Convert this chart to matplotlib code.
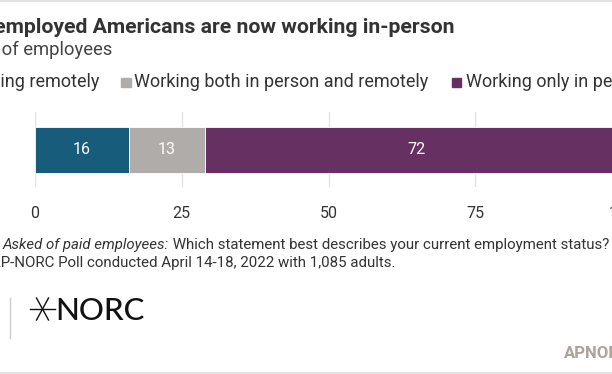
import matplotlib
matplotlib.use("Agg")
from matplotlib import pyplot as plt
from matplotlib.lines import Line2D
from matplotlib.patches import Rectangle

# chart data
categories = ["Working remotely", "Working both in person and remotely", "Working only in person"]
values = [16, 13, 72]
colors = ["#185c7b", "#b0acaa", "#663162"]
ticks = [0, 25, 50, 75, 100]

title = "Most employed Americans are now working in-person"
subtitle = "Percent of employees"
note_italic = "Asked of paid employees:"
note_rest = " Which statement best describes your current employment status?"
source = "Source: AP-NORC Poll conducted April 14-18, 2022 with 1,085 adults."

W, H = 612, 374
plt.rcParams['font.family'] = ['Roboto', 'DejaVu Sans']


def fx(px):
    return px / W


def fy(py):
    return 1 - py / H


fig = plt.figure(figsize=(W / 100, H / 100), dpi=100)
fig.patch.set_facecolor("white")

# frame lines top / bottom
fig.add_artist(Line2D([0, 1], [fy(1), fy(1)], color="#dddddd", lw=1.2))
fig.add_artist(Line2D([0, 1], [fy(373), fy(373)], color="#dddddd", lw=1.2))

# title block (cut on the left like the reference)
fig.text(fx(455), fy(33), title, ha="right", va="baseline", fontsize=15.3,
         fontweight="bold", color="#333333")
fig.text(fx(112), fy(55), subtitle, ha="right", va="baseline", fontsize=13.2,
         color="#444444")

# legend
leg_fs = 13
fig.text(fx(99), fy(87), categories[0], ha="right", va="baseline", fontsize=leg_fs, color="#333333")
fig.add_artist(Rectangle((fx(121), fy(87)), fx(9.5), 9.5 / H, color=colors[1]))
fig.text(fx(134), fy(87), categories[1], ha="left", va="baseline", fontsize=leg_fs, color="#333333")
fig.add_artist(Rectangle((fx(452), fy(87)), fx(9.5), 9.5 / H, color=colors[2]))
fig.text(fx(466), fy(87), categories[2], ha="left", va="baseline", fontsize=leg_fs, color="#333333")

# bar axes: x 0..100 maps to 35..622 px, vertical span 112..187 px
ax = fig.add_axes([fx(35), fy(187), (622 - 35) / W, (187 - 112) / H])
ax.set_xlim(0, 100)
ax.set_ylim(-0.5, 0.5)
bar_h = 46 / 75
left = 0
for v, c in zip(values, colors):
    ax.barh(0, v, left=left, height=bar_h, color=c, edgecolor="white", linewidth=0.6, zorder=3)
    ax.text(left + v / 2, 0, str(v), ha="center", va="center", color="white",
            fontsize=11.5, zorder=4)
    left += v
for t in ticks:
    ax.axvline(t, color="#e3e3e3", lw=1, zorder=1)
ax.set_xticks(ticks)
ax.set_xticklabels([str(t) for t in ticks], fontsize=11.5, color="#333333")
ax.tick_params(axis="x", length=0, pad=14)
ax.set_yticks([])
for s in ax.spines.values():
    s.set_visible(False)
ax.patch.set_alpha(0)

# notes
note_fs = 10.85
note1 = fig.text(fx(3), fy(249.5), note_italic, ha="left", va="baseline", fontsize=note_fs,
                 style="italic", color="#333333")
fig.canvas.draw()
bb = note1.get_window_extent()
fig.text(bb.x1 / W, fy(249.5), note_rest, ha="left", va="baseline", fontsize=note_fs, color="#333333")
fig.text(fx(395), fy(267.5), source, ha="right", va="baseline", fontsize=note_fs, color="#333333")

# NORC logo
fig.add_artist(Line2D([fx(10), fx(10)], [fy(298), fy(338)], color="#cccccc", lw=1))
cx, cy, r = 42.5, 309, 12.5
fig.add_artist(Line2D([fx(cx - r), fx(cx + r)], [fy(cy), fy(cy)], color="#111111", lw=1))
fig.add_artist(Line2D([fx(cx - 6), fx(cx + 6)], [fy(cy + 11), fy(cy - 11)], color="#111111", lw=1))
fig.add_artist(Line2D([fx(cx - 6), fx(cx + 6)], [fy(cy - 11), fy(cy + 11)], color="#111111", lw=1))
fig.text(fx(55), fy(320), "NORC", ha="left", va="baseline", fontsize=22.5,
         family=["Lato", "DejaVu Sans"], fontweight="medium", color="#111111")

fig.text(fx(564), fy(358), "APNORC.org", ha="left", va="baseline", fontsize=12,
         fontweight="bold", color="#aba49b")

fig.savefig("out.png", dpi=100)
